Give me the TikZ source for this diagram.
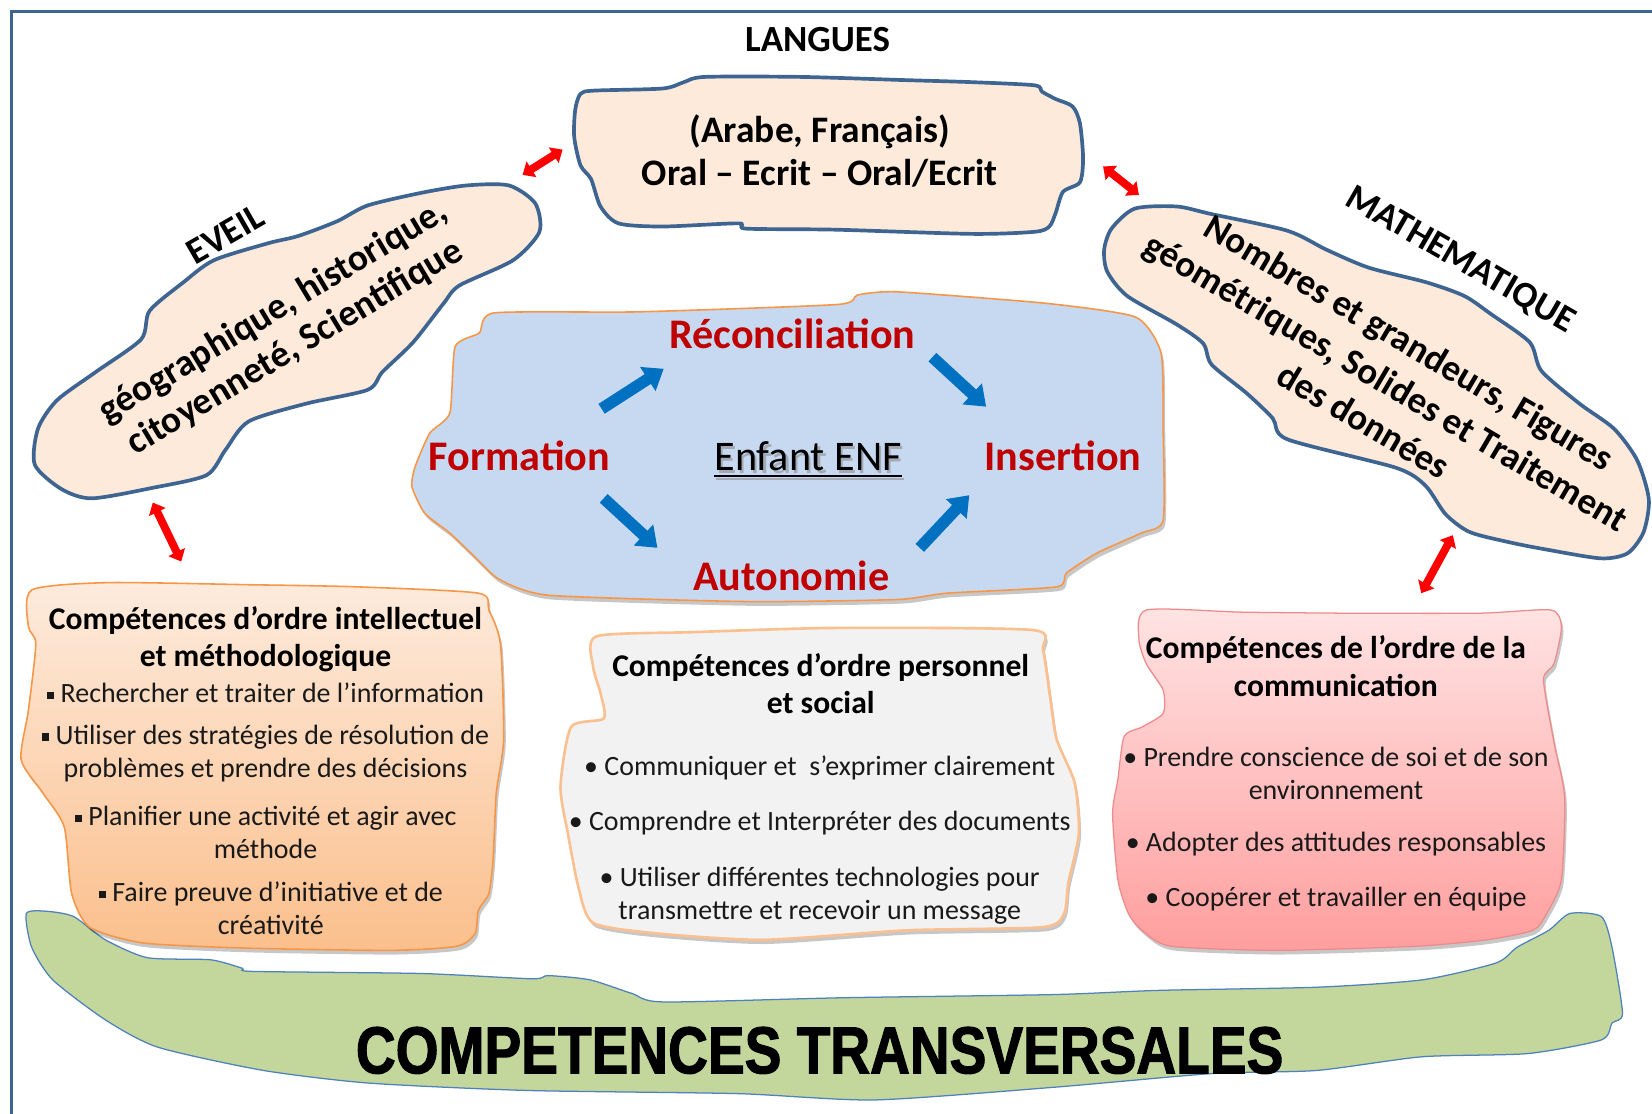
\documentclass[tikz,border=0pt]{standalone}
\usepackage{fontspec}
\setmainfont{Carlito}
\newfontfamily\ctfont{Liberation Sans}[FakeStretch=0.83, BoldFeatures={FakeBold=1.6}]
\usetikzlibrary{arrows.meta,shadows}
\definecolor{frameblue}{HTML}{3E6491}
\definecolor{peach}{HTML}{FDEADA}
\definecolor{lightblue}{HTML}{C6D9F1}
\definecolor{orangeb}{HTML}{F79646}
\definecolor{orangel}{HTML}{FAC090}
\definecolor{orangetop}{HTML}{FDEBDD}
\definecolor{orangebot}{HTML}{FBBF8C}
\definecolor{greyfill}{HTML}{F2F2F2}
\definecolor{pinktop}{HTML}{FFE3E3}
\definecolor{pinkbot}{HTML}{FF9E9E}
\definecolor{pinkline}{HTML}{F08A8A}
\definecolor{greenf}{HTML}{C3D69B}
\definecolor{greenline}{HTML}{4F81BD}
\definecolor{darkred}{HTML}{C00000}
\definecolor{arrowblue}{HTML}{0070C0}
\newcommand{\sqbul}{\raisebox{3.5pt}{\rule{7pt}{7pt}}\hspace{6pt}}
\begin{document}
\begin{tikzpicture}[x=1pt,y=-1pt,
  blob/.style={fill=peach, draw=frameblue, line width=3.5pt, line join=round},
  shadowed/.style={drop shadow={shadow xshift=2pt,shadow yshift=-4pt,fill=black,opacity=0.22}},
  bigbold/.style={font=\fontsize{35}{42}\selectfont\bfseries, align=center, inner sep=0pt},
  centerword/.style={font=\fontsize{40}{48}\selectfont\bfseries, text=darkred, inner sep=0pt},
  boxtitle/.style={font=\fontsize{30}{35}\selectfont\bfseries, align=center, inner sep=0pt},
  item/.style={font=\fontsize{26.5}{31}\selectfont, align=center, inner sep=0pt, text=black!90},
  redarrow/.style={draw=red, line width=7.5pt, {Triangle[length=10pt,width=17pt]}-{Triangle[length=10pt,width=17pt]}},
  bluearrow/.style={draw=arrowblue, line width=11pt, -{Triangle[length=18pt,width=26pt]}}
]
\useasboundingbox (0,0) rectangle (1568,1057);
\clip (0,0) rectangle (1568,1057);
\fill[white] (0,0) rectangle (1568,1057);

% frame
\draw[frameblue, line width=3pt] (11,1100) -- (11,11) -- (1600,11);

% green band
\path[fill=greenf, draw=greenline, line width=1.2pt] plot[smooth cycle, tension=0.4] coordinates {
 (25,867) (45,865) (70,870) (100,892) (140,909) (200,911) (230,919) (240,922) (400,924) (505,929) (520,926) (560,930) (600,943) (630,951) (800,947) (1000,944) (1100,940) (1250,937) (1350,930) (1420,914) (1440,899) (1470,883) (1490,867) (1520,870) (1530,899) (1540,962) (1530,971) (1520,987) (1450,1000) (1350,1003) (1250,1016) (1150,1019) (1000,1032) (830,1044) (700,1038) (500,1035) (350,1028) (250,1016) (150,994) (100,968) (50,930) (30,899)};
\node[font=\ctfont\bfseries\fontsize{63}{70}\selectfont, inner sep=0pt] (ct) at (778,997) {COMPETENCES TRANSVERSALES};

% Langues blob
\path[blob] plot[smooth cycle, tension=0.45] coordinates {
 (551,89) (564,86) (629,84) (649,78) (669,73) (760,73) (858,76) (923,78) (982,81) (989,87) (1002,94) (1018,101) (1025,117) (1028,150) (1025,173) (1009,182) (1002,202) (996,215) (982,220) (923,222) (793,218) (708,217) (701,212) (629,215) (587,212) (570,196) (561,170) (551,157) (545,130) (546,104)};
\node[bigbold] (langlabel) at (776,38) {LANGUES};
\node[bigbold, font=\fontsize{35.5}{41}\selectfont\bfseries] (langtext) at (778,143) {(Arabe, Français)\\Oral – Ecrit – Oral/Ecrit};

% Eveil blob
\path[blob] plot[smooth cycle, tension=0.45] coordinates {
 (483,176) (508,193) (512,220) (487,247) (436,271) (421,288) (392,325) (363,353) (349,370) (291,383) (236,400) (214,427) (196,451) (145,463) (87,473) (58,464) (33,441) (36,407) (54,380) (91,353) (134,322) (142,295) (174,268) (203,247) (254,231) (283,224) (320,210) (349,195) (400,183) (443,176)};
\node[bigbold, rotate=30] (eveillabel) at (214,222) {EVEIL};
\node[bigbold, rotate=31, font=\fontsize{35.5}{40}\selectfont\bfseries] (eveiltext) at (270,313) {géographique, historique,\\citoyenneté, Scientifique};

% Math blob
\path[blob] plot[smooth cycle, tension=0.45] coordinates {
 (1077,198) (1117,196) (1149,203) (1222,219) (1259,237) (1299,254) (1354,268) (1390,281) (1415,298) (1452,325) (1463,352) (1499,383) (1532,407) (1554,437) (1565,474) (1560,505) (1545,525) (1520,530) (1470,522) (1434,515) (1395,505) (1372,488) (1353,461) (1325,444) (1222,417) (1208,397) (1183,373) (1150,346) (1142,326) (1117,308) (1070,281) (1051,258) (1048,237) (1055,217)};
\node[bigbold, rotate=-30] (mathlabel) at (1386,247) {MATHEMATIQUE};
\node[bigbold, rotate=-30.5, font=\fontsize{35}{43}\selectfont\bfseries] (mathtext) at (1316,362) {Nombres et grandeurs, Figures\\géométriques, Solides et Traitement\\des données};

% central blob
\path[fill=lightblue, draw=orangeb, line width=1.5pt, shadowed] plot[smooth cycle, tension=0.35] coordinates {
 (469,297) (606,296) (795,289) (814,280) (852,277) (994,288) (1078,301) (1102,335) (1104,408) (1104,494) (1083,506) (1041,525) (1012,544) (1003,557) (899,563) (852,569) (710,571) (521,565) (474,550) (450,528) (427,506) (403,487) (391,462) (394,443) (408,411) (427,392) (432,329) (455,316)};
\node[centerword] (recon) at (752,317) {Réconciliation};
\node[centerword] (form) at (493,433) {Formation};
\node[centerword] (ins) at (1009,433) {Insertion};
\node[centerword] (auto) at (751,547) {Autonomie};
\node[font=\fontsize{40}{48}\selectfont, inner sep=0pt, text=black!45, opacity=0.6] (enfsh) at (769,436) {Enfant ENF};
\draw[black!45, opacity=0.6, line width=2.2pt] ([yshift=-5pt]enfsh.base west) -- ([yshift=-5pt]enfsh.base east);
\node[font=\fontsize{40}{48}\selectfont, inner sep=0pt] (enf) at (767,433) {Enfant ENF};
\draw[black, line width=2.2pt] ([yshift=-5pt]enf.base west) -- ([yshift=-5pt]enf.base east);

% blue arrows
\coordinate (b1s) at (571,388); \coordinate (b1e) at (630,350);
\coordinate (b2s) at (885,339); \coordinate (b2e) at (936,386);
\coordinate (b3s) at (573,473); \coordinate (b3e) at (624,520);
\coordinate (b4s) at (873,520); \coordinate (b4e) at (920,470);
\draw[bluearrow] (b1s) -- (b1e);
\draw[bluearrow] (b2s) -- (b2e);
\draw[bluearrow] (b3s) -- (b3e);
\draw[bluearrow] (b4s) -- (b4e);

% red arrows
\coordinate (r1s) at (496,166); \coordinate (r1e) at (534,142);
\coordinate (r2s) at (1047,158); \coordinate (r2e) at (1081,185);
\coordinate (r3s) at (145,477); \coordinate (r3e) at (172,533);
\coordinate (r4s) at (1379,508); \coordinate (r4e) at (1349,563);
\draw[redarrow] (r1s) -- (r1e);
\draw[redarrow] (r2s) -- (r2e);
\draw[redarrow] (r3s) -- (r3e);
\draw[redarrow] (r4s) -- (r4e);

% Box 1
\path[top color=orangetop, bottom color=orangebot, draw=orangeb, line width=1.5pt, shadowed] plot[smooth cycle, tension=0.4] coordinates {
 (30,560) (102,553) (237,555) (339,557) (454,563) (464,579) (475,611) (478,702) (471,753) (468,816) (464,848) (454,864) (451,886) (434,898) (373,902) (237,900) (136,895) (85,880) (68,848) (61,785) (41,753) (20,721) (27,674) (34,611) (27,595)};
\node[boxtitle] (b1t) at (252,607) {Compétences d’ordre intellectuel\\et méthodologique};
\node[item] (b1a) at (252,658) {\sqbul Rechercher et traiter de l’information};
\node[item] (b1b) at (252,715) {\sqbul Utiliser des stratégies de résolution de\\problèmes et prendre des décisions};
\node[item] (b1c) at (252,790) {\sqbul Planifier une activité et agir avec\\méthode};
\node[item] (b1d) at (257,862) {\sqbul Faire preuve d’initiative et de\\créativité};

% Box 2
\path[fill=greyfill, draw=orangel, line width=2.5pt, shadowed] plot[smooth cycle, tension=0.4] coordinates {
 (566,604) (658,600) (793,596) (980,598) (990,617) (997,664) (1003,702) (1020,743) (1024,791) (1014,838) (1010,867) (990,880) (861,883) (725,892) (624,886) (563,876) (549,842) (539,791) (532,747) (542,690) (573,682) (570,658) (563,633)};
\node[boxtitle] (b2t) at (779,649) {Compétences d’ordre personnel\\et social};
\node[item] (b2a) at (778,729) {• Communiquer et \ s’exprimer clairement};
\node[item] (b2b) at (778,781) {• Comprendre et Interpréter des documents};
\node[item] (b2c) at (778,850) {• Utiliser différentes technologies pour\\transmettre et recevoir un message};

% Box 3
\path[top color=pinktop, bottom color=pinkbot, draw=pinkline, line width=1.2pt, shadowed] plot[smooth cycle, tension=0.4] coordinates {
 (1088,579) (1178,581) (1278,582) (1405,582) (1472,579) (1482,595) (1475,630) (1465,645) (1475,705) (1485,756) (1482,835) (1468,867) (1455,883) (1411,892) (1345,898) (1211,902) (1111,898) (1084,883) (1071,867) (1061,835) (1056,772) (1061,740) (1067,699) (1084,690) (1104,677) (1104,655) (1088,630) (1081,607)};
\node[boxtitle, font=\fontsize{30}{36}\selectfont\bfseries] (b3t) at (1268,632) {Compétences de l’ordre de la\\communication};
\node[item] (b3a) at (1268,734) {• Prendre conscience de soi et de son\\environnement};
\node[item] (b3b) at (1268,801) {• Adopter des attitudes responsables};
\node[item] (b3c) at (1268,853) {• Coopérer et travailler en équipe};
\end{tikzpicture}
\end{document}
